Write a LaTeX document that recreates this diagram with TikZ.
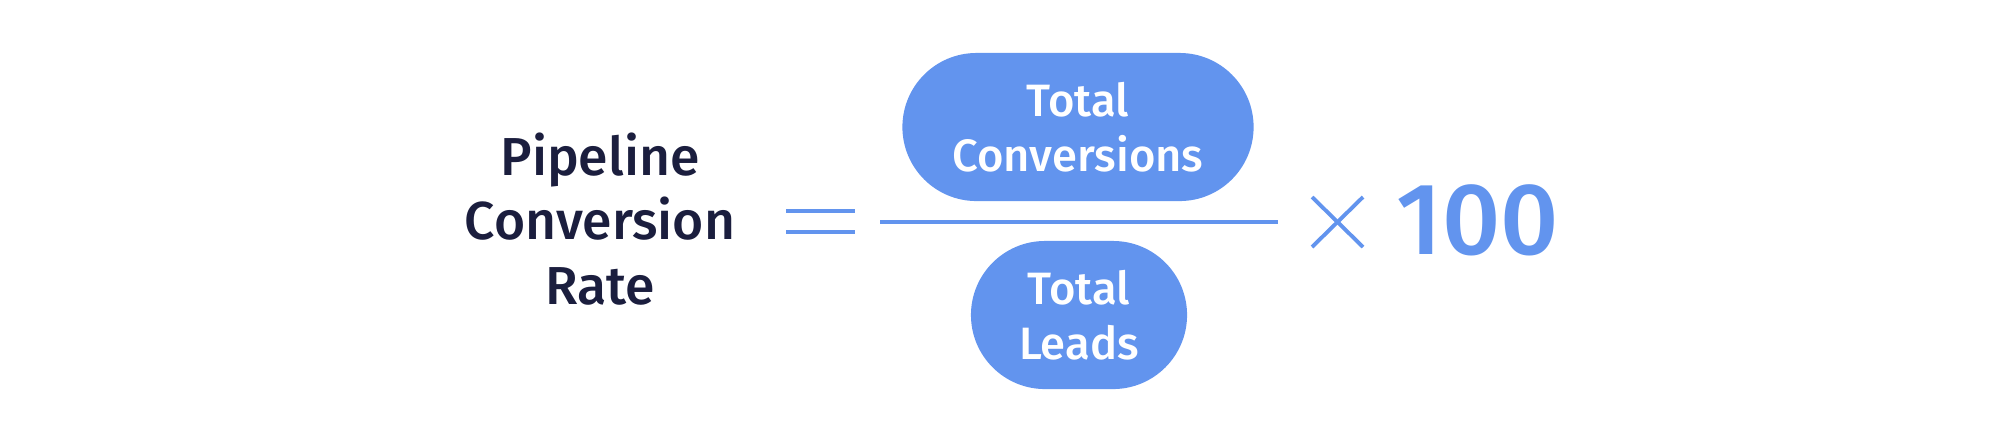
\documentclass[tikz,border=0pt]{standalone}
\usepackage{fontspec}
\setmainfont{Fira Sans Medium}
\definecolor{pillblue}{RGB}{98,148,238}
\definecolor{inkdark}{RGB}{27,30,62}

\begin{document}
\begin{tikzpicture}[
    x=0.01cm, y=-0.01cm,
    pill/.style={fill=pillblue, rounded corners=0.74cm, minimum height=1.48cm, text=white, font=\fontsize{12.9}{15.6}\selectfont, align=center, inner sep=0pt},
    lbl/.style={text=inkdark, font=\fontsize{15.2}{18.3}\selectfont, align=center},
    sym/.style={draw=pillblue, line width=1.3pt},
]
\useasboundingbox (0, 0) rectangle (2000, 444);
% Left side of the formula
\node[lbl] (rate) at (600, 219) {Pipeline\\Conversion\\Rate};
% Equals sign
\coordinate (eqL) at (786, 211);
\coordinate (eqR) at (855, 211);
\coordinate (eqL2) at (786, 232);
\coordinate (eqR2) at (855, 232);
\draw[sym] (eqL) -- (eqR);
\draw[sym] (eqL2) -- (eqR2);
% Fraction
\node[pill, minimum width=3.51cm] (conv) at (1078, 127) {Total\\Conversions};
\node[pill, minimum width=2.16cm] (leads) at (1079, 315) {Total\\Leads};
\coordinate (fracL) at (880, 222);
\coordinate (fracR) at (1278, 222);
\draw[draw=pillblue, line width=1pt] (fracL) -- (fracR);
% Times 100
\coordinate (tA) at (1312, 197);
\coordinate (tB) at (1363, 247);
\coordinate (tC) at (1312, 247);
\coordinate (tD) at (1363, 197);
\draw[sym, line width=1.1pt] (tA) -- (tB);
\draw[sym, line width=1.1pt] (tC) -- (tD);
\node[text=pillblue, font=\fontsize{29}{30}\selectfont, anchor=base] (hundred) at (1478, 254) {100};
\end{tikzpicture}
\end{document}
